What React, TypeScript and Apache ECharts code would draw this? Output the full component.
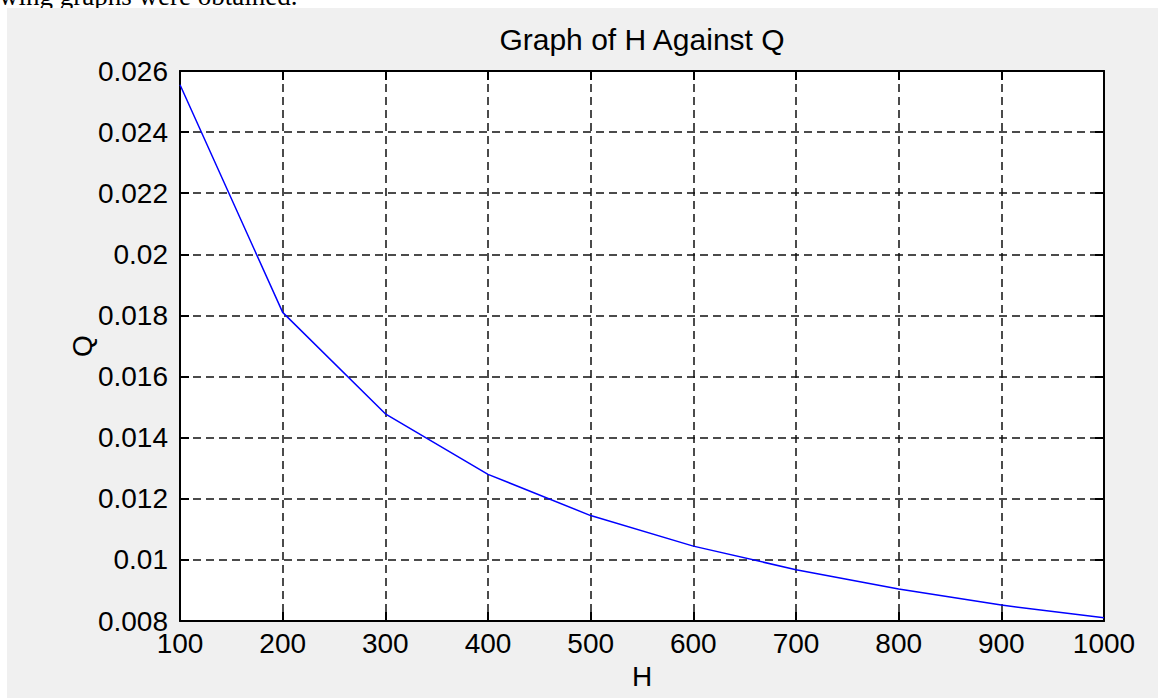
import React, { useEffect, useRef } from "react";
import * as echarts from "echarts";

const hValues = [100, 200, 300, 400, 500, 600, 700, 800, 900, 1000];
const qValues = [0.02555, 0.0181, 0.01478, 0.0128, 0.01145, 0.01045, 0.00968, 0.00905, 0.00852, 0.00811];
const chartTitle = "Graph of H Against Q";
const xName = "H";
const yName = "Q";
const captionText = "wing graphs were obtained.";

export default function App() {
  const ref = useRef<HTMLDivElement>(null);
  useEffect(() => {
    if (!ref.current) return;
    const chart = echarts.init(ref.current, undefined, { renderer: "svg" });
    const font = "Liberation Sans, Arial, sans-serif";
    const axisLine = { show: true, lineStyle: { color: "#000", width: 2 } };
    const tick = { show: true, inside: true, length: 9, lineStyle: { color: "#000", width: 2 } };
    const split = { show: true, lineStyle: { color: "#111", width: 1.5, type: [8, 5] as any } };
    const fmtY = (v: number) => String(+(+v).toFixed(3));
    const fmtX = (v: number) => String(Math.round(+v));
    chart.setOption({
      animation: false,
      backgroundColor: "#fff",
      graphic: [
        {
          type: "text",
          x: -1,
          y: -4,
          z: -20,
          style: {
            text: captionText,
            font: '27px "Liberation Serif", "Times New Roman", serif',
            fill: "#000",
            verticalAlign: "middle",
            align: "left",
          },
        },
        {
          type: "rect",
          z: -10,
          shape: { x: 7, y: 8, width: 1151, height: 690 },
          style: { fill: "#f0f0f0" },
        },
      ],
      grid: {
        show: true,
        left: 180,
        top: 71,
        right: 54,
        bottom: 77,
        backgroundColor: "#fff",
        borderWidth: 0,
      },
      xAxis: [
        {
          type: "value",
          min: 100,
          max: 1000,
          interval: 100,
          position: "bottom",
          name: xName,
          nameLocation: "middle",
          nameGap: 41,
          nameMoveOverlap: false,
          nameTextStyle: { fontFamily: font, fontSize: 28, color: "#000" },
          axisLine,
          axisTick: tick,
          splitLine: split,
          axisLabel: { fontFamily: font, fontSize: 28, color: "#000", margin: 8, formatter: fmtX },
        },
        {
          type: "value",
          min: 100,
          max: 1000,
          interval: 100,
          position: "top",
          name: chartTitle,
          nameLocation: "middle",
          nameGap: 17,
          nameMoveOverlap: false,
          nameTextStyle: { fontFamily: font, fontSize: 30, color: "#000" },
          axisLine,
          axisTick: tick,
          splitLine: { show: false },
          axisLabel: { show: false },
        },
      ],
      yAxis: [
        {
          type: "value",
          min: 0.008,
          max: 0.026,
          interval: 0.002,
          position: "left",
          name: yName,
          nameLocation: "middle",
          nameGap: 84,
          nameMoveOverlap: false,
          nameTextStyle: { fontFamily: font, fontSize: 28, color: "#000" },
          axisLine,
          axisTick: tick,
          splitLine: split,
          axisLabel: { fontFamily: font, fontSize: 28, color: "#000", margin: 12, formatter: fmtY },
        },
        {
          type: "value",
          min: 0.008,
          max: 0.026,
          interval: 0.002,
          position: "right",
          axisLine,
          axisTick: tick,
          splitLine: { show: false },
          axisLabel: { show: false },
        },
      ],
      series: [
        {
          type: "line",
          xAxisIndex: 0,
          yAxisIndex: 0,
          data: hValues.map((h, i) => [h, qValues[i]]),
          showSymbol: false,
          symbol: "none",
          lineStyle: { color: "#0000ff", width: 1.5 },
          itemStyle: { color: "#0000ff" },
          z: 5,
        },
      ],
    });
    return () => chart.dispose();
  }, []);
  return (
    <div
      ref={ref}
      style={{ position: "fixed", left: 0, top: 0, width: 1158, height: 698 }}
    />
  );
}
